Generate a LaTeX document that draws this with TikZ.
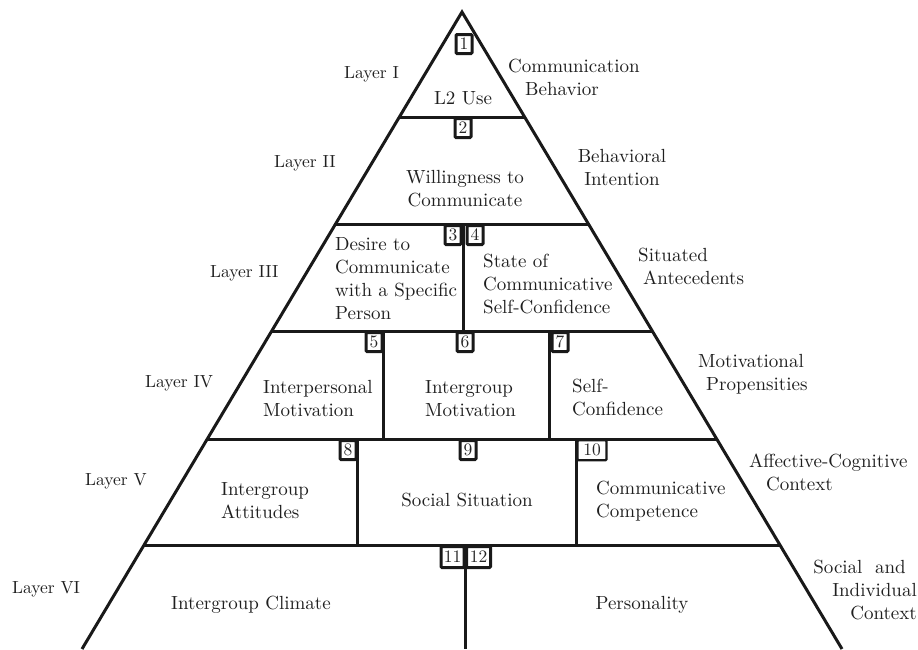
\documentclass[tikz,border=0pt]{standalone}
\usepackage{fontspec}
\setmainfont{lmroman10-regular}[Extension=.otf]
\begin{document}
\begin{tikzpicture}[x=1pt,y=-1pt,
  edge/.style={line width=3pt, line join=miter, draw=black!90},
  numbox/.style={draw=black!90, line width=3pt, fill=white, rounded corners=1pt, inner sep=0pt,
    minimum width=16pt, minimum height=19pt, font=\fontsize{17.5}{17.5}\selectfont, text=black!85},
  txt/.style={font=\fontsize{19}{23}\selectfont, inner sep=0pt, text=black!88},
  lay/.style={font=\fontsize{17.5}{21}\selectfont, inner sep=0pt, text=black!88}]
\useasboundingbox (0,0) rectangle (918,649);
\begin{scope}
\clip (0,0) rectangle (918,649);
% outline
\coordinate (apex) at (462,12);
\coordinate (bl) at (82,649);
\coordinate (br) at (842,649);
\draw[edge] (bl) -- (apex) -- (br);
% layer lines
\draw[edge] (398,117) -- (526,117);
\draw[edge] (335.5,224) -- (588.5,224);
\draw[edge] (271.7,331) -- (652.3,331);
\draw[edge] (207.3,439) -- (716.7,439);
\draw[edge] (144.1,545) -- (779.9,545);
% dividers
\draw[edge] (463,224) -- (463,331);
\draw[edge] (383,331) -- (383,439);
\draw[edge] (549,331) -- (549,439);
\draw[edge] (357,439) -- (357,545);
\draw[edge] (576,439) -- (576,545);
\draw[edge] (465,545) -- (465,649);
\end{scope}
% number boxes
\node[numbox] (n1) at (464,44) {1};
\node[numbox, anchor=north] (n2) at (463,117) {2};
\node[numbox, anchor=north] (n3) at (453,224) {3};
\node[numbox, anchor=north] (n4) at (475,224) {4};
\node[numbox, anchor=north] (n5) at (374,331) {5};
\node[numbox, anchor=north] (n6) at (465,331) {6};
\node[numbox, anchor=north] (n7) at (560,331) {7};
\node[numbox, anchor=north] (n8) at (348,439) {8};
\node[numbox, anchor=north] (n9) at (468,439) {9};
\node[numbox, anchor=north, minimum width=29pt, minimum height=20pt, line width=2.4pt] (n10) at (592,439) {10};
\node[numbox, anchor=north, minimum width=23pt, minimum height=21pt] (n11) at (452.5,545) {11};
\node[numbox, anchor=north, minimum width=24pt, minimum height=21pt] (n12) at (478.5,545) {12};
% box texts
\node[txt, anchor=base] (t1) at (463,104) {L2 Use};
\node[txt, anchor=north, align=center] (t2) at (465,170) {Willingness to\\Communicate};
\node[txt, anchor=north west, align=left] (t3) at (335,237) {Desire to\\Communicate\\with a Specific\\Person};
\node[txt, anchor=north west, align=left] (t4) at (483,254) {State of\\Communicative\\Self-Confidence};
\node[txt, anchor=north west, align=left] (t5) at (263,380) {Interpersonal\\Motivation};
\node[txt, anchor=north west, align=left] (t6) at (425,380) {Intergroup\\Motivation};
\node[txt, anchor=north west, align=left] (t7) at (572,379) {Self-\\Confidence};
\node[txt, anchor=north west, align=left] (t8) at (221,482) {Intergroup\\Attitudes};
\node[txt, anchor=base] (t9) at (467,506) {Social Situation};
\node[txt, anchor=north west, align=left] (t10) at (596,481) {Communicative\\Competence};
\node[txt, anchor=base] (t11) at (251,609) {Intergroup Climate};
\node[txt, anchor=base] (t12) at (642,609) {Personality};
% right labels
\node[txt, anchor=north west, align=left] (r1) at (508,59) {Communication\\\hspace*{17pt}Behavior};
\node[txt, anchor=north, align=center] (r2) at (622,149) {Behavioral\\Intention};
\node[txt, anchor=north west, align=left] (r3) at (638,248) {Situated\\\hspace*{5pt}Antecedents};
\node[txt, anchor=north west, align=left] (r4) at (698,354) {Motivational\\\hspace*{8pt}Propensities};
\node[txt, anchor=north west, align=left] (r5) at (749,454) {Affective-Cognitive\\\hspace*{17pt}Context};
\node[txt, anchor=north east, align=right] (r6) at (917,560) {Social\ \ and\hspace*{11pt}\\Individual\\Context};
% layer labels
\node[lay, anchor=base west] (l1) at (344,78) {Layer I};
\node[lay, anchor=base west] (l2) at (274,167) {Layer II};
\node[lay, anchor=base west] (l3) at (210,277) {Layer III};
\node[lay, anchor=base west] (l4) at (145,387) {Layer IV};
\node[lay, anchor=base west] (l5) at (85,485) {Layer V};
\node[lay, anchor=base west] (l6) at (12,593) {Layer VI};
\end{tikzpicture}
\end{document}
